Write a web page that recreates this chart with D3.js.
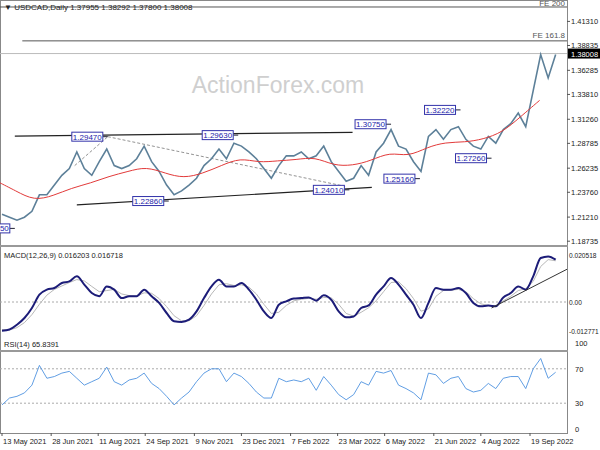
<!DOCTYPE html>
<html><head><meta charset="utf-8">
<script src="https://cdn.jsdelivr.net/npm/d3@7"></script>
<style>body{margin:0;background:#fff}text{font-family:"Liberation Sans",Arial,sans-serif}</style>
</head><body><svg width="600" height="450"></svg>
<script>
const svg = d3.select('svg');

// weekly closes starting 13 May 2021
const closes = [1.215,1.212,1.209,1.212,1.218,1.235,1.235,1.245,1.255,1.262,1.279,1.262,1.255,1.269,1.282,1.265,1.262,1.265,1.272,1.285,
  1.269,1.259,1.245,1.235,1.239,1.245,1.252,1.265,1.272,1.282,1.272,1.288,1.285,1.279,1.272,1.262,1.252,1.265,1.275,1.275,
  1.279,1.272,1.275,1.285,1.269,1.259,1.249,1.252,1.265,1.255,1.279,1.288,1.302,1.285,1.282,1.269,1.259,1.295,1.302,1.292,
  1.302,1.305,1.292,1.285,1.282,1.295,1.288,1.302,1.308,1.319,1.305,1.342,1.379,1.355,1.379];
// 50-day MA, one value every 2.5 weeks
const maValues = [1.249,1.239,1.229,1.234,1.242,1.247,1.254,1.259,1.264,1.257,1.252,1.257,1.265,1.273,1.268,
  1.270,1.271,1.274,1.265,1.265,1.270,1.279,1.274,1.284,1.289,1.289,1.292,1.299,1.315,1.332];
const macd = [-0.0125,-0.012,-0.0099,-0.007,-0.0026,0.0032,0.0054,0.0061,0.0083,0.009,0.0112,0.0076,0.0039,0.0025,0.0068,0.0054,0.0017,0.0025,0.0025,0.0054,
  0.0025,-0.0004,-0.0048,-0.0084,-0.0087,-0.0077,-0.0041,0.0017,0.0068,0.0097,0.0068,0.0068,0.0083,0.0054,0.001,-0.0041,-0.007,-0.0012,0.0003,0.0015,
  0.0017,0.002,0.0006,0.0029,0.001,-0.0041,-0.0067,-0.0063,-0.0026,-0.0015,0.0032,0.0068,0.0105,0.0076,0.0032,-0.0012,-0.007,-0.0004,0.0061,0.0054,
  0.0054,0.0061,0.0039,-0.0004,-0.0019,-0.0015,-0.0019,0.002,0.0039,0.0068,0.0054,0.0112,0.0192,0.0199,0.0185];
const signal = [-0.012,-0.0122,-0.0112,-0.009,-0.0055,-0.001,0.003,0.0055,0.007,0.0085,0.0098,0.0092,0.0068,0.0045,0.005,0.0055,0.0035,0.0028,0.0026,0.004,
  0.0038,0.0015,-0.002,-0.006,-0.0082,-0.0082,-0.006,-0.0015,0.0035,0.0075,0.008,0.0072,0.0075,0.0065,0.0035,-0.001,-0.005,-0.0045,-0.0015,0.0005,
  0.0012,0.0016,0.0012,0.002,0.0018,-0.001,-0.005,-0.0062,-0.0045,-0.0025,0.0005,0.0045,0.0085,0.0088,0.0058,0.0015,-0.004,-0.003,0.0025,0.005,
  0.0052,0.0055,0.0045,0.0015,-0.0008,-0.0015,-0.0016,0.0005,0.0025,0.005,0.0058,0.009,0.0155,0.0185,0.018];
const rsi = [28,36,38,42,51,74,59,61,65,67,59,51,55,59,72,55,51,57,59,65,53,47,38,28,36,43,55,65,70,70,
  55,65,61,53,43,36,36,59,55,57,55,59,45,61,51,40,34,40,55,51,67,65,68,51,47,42,34,65,63,53,
  59,61,47,43,45,53,47,59,61,61,47,70,82,59,66];
const pivots = [
  {label:'1.20050', date:'2021-05-25', price:1.2005},
  {label:'1.29470', date:'2021-08-20', price:1.2947},
  {label:'1.22860', date:'2021-10-16', price:1.2286},
  {label:'1.29630', date:'2021-12-20', price:1.2963},
  {label:'1.24010', date:'2022-04-03', price:1.2401},
  {label:'1.30750', date:'2022-05-12', price:1.3075},
  {label:'1.25160', date:'2022-06-08', price:1.2516},
  {label:'1.32220', date:'2022-07-16', price:1.3222},
  {label:'1.27260', date:'2022-08-14', price:1.2726}];
const priceTicks = [1.41310,1.38835,1.36285,1.33810,1.31260,1.28785,1.26235,1.23760,1.21210,1.18735];
const dateTicks = ['2021-05-13','2021-06-28','2021-08-11','2021-09-24','2021-11-09','2021-12-23','2022-02-07','2022-03-23','2022-05-06','2022-06-21','2022-08-04','2022-09-19'];
const lastPrice = 1.38008;

const parse = d3.timeParse('%Y-%m-%d');
const start = parse('2021-05-13');
const wk = i => d3.timeDay.offset(start, i * 7);
const x = d3.scaleTime().domain([start, parse('2022-09-19')]).range([2, 530]);
const y = d3.scaleLinear().domain([1.18735, 1.4131]).range([241.2, 21.4]);
const ym = d3.scaleLinear().domain([0, 0.020518]).range([302, 255]);
const yr = d3.scaleLinear().domain([0, 100]).range([429, 343]);
const fmtTick = d3.timeFormat('%-d %b %Y');

// frames
svg.append('rect').attr('x', 0.5).attr('y', 0.5).attr('width', 567).attr('height', 433).attr('fill', 'none').attr('stroke', '#888');
[[245, 247], [350, 352]].forEach(([a, b]) => {
  svg.append('rect').attr('x', 0).attr('y', a).attr('width', 568).attr('height', b - a).attr('fill', '#999');
});

svg.append('text').attr('x', 278).attr('y', 93).attr('text-anchor', 'middle').attr('font-size', 23)
  .attr('fill', '#cfcfcf').text('ActionForex.com');

// horizontal levels
svg.append('line').attr('x1', 0).attr('x2', 567).attr('y1', y(1.4279)).attr('y2', y(1.4279)).attr('stroke', '#555');
svg.append('text').attr('x', 565).attr('y', y(1.4279) - 1).attr('text-anchor', 'end').attr('font-size', 8).attr('fill', '#555').text('FE 200');
svg.append('line').attr('x1', x(d3.timeDay.offset(start, 19))).attr('x2', 567).attr('y1', y(1.3931)).attr('y2', y(1.3931)).attr('stroke', '#555');
svg.append('text').attr('x', 565).attr('y', y(1.3931) - 3).attr('text-anchor', 'end').attr('font-size', 8).attr('fill', '#555').text('FE 161.8');
svg.append('line').attr('x1', 0).attr('x2', 567).attr('y1', y(lastPrice)).attr('y2', y(lastPrice)).attr('stroke', '#bbb');

// trend lines
const seg = (d1, p1, d2, p2, dash) => svg.append('line')
  .attr('x1', x(d3.timeDay.offset(start, d1))).attr('y1', y(p1))
  .attr('x2', x(d3.timeDay.offset(start, d2))).attr('y2', y(p2))
  .attr('stroke', dash ? '#777' : '#222').attr('stroke-width', dash ? 0.8 : 1.2)
  .attr('stroke-dasharray', dash ? '3,2' : null);
seg(12, 1.2952, 328, 1.2992);
seg(70, 1.2247, 346, 1.2426);
seg(68, 1.265, 99, 1.2947, true);
seg(99, 1.2947, 321, 1.2437, true);

// price and MA
svg.append('path').attr('d', d3.line().x((d, i) => x(wk(i))).y(d => y(d))(closes))
  .attr('fill', 'none').attr('stroke', '#5d8099').attr('stroke-width', 1.6);
svg.append('path').attr('d', d3.line().curve(d3.curveBasis).x((d, i) => x(wk(i * 2.5 - 0.6))).y(d => y(d))(maValues))
  .attr('fill', 'none').attr('stroke', '#e23a3a').attr('stroke-width', 1);

// pivot labels
pivots.forEach(p => {
  const px = x(parse(p.date)), py = y(p.price);
  svg.append('line').attr('x1', px - 5).attr('x2', px).attr('y1', py).attr('y2', py).attr('stroke', '#223');
  svg.append('rect').attr('x', px - 36).attr('y', py - 4.5).attr('width', 31).attr('height', 9)
    .attr('fill', '#fff').attr('stroke', '#3333aa');
  svg.append('text').attr('x', px - 20.5).attr('y', py + 3).attr('text-anchor', 'middle').attr('font-size', 8)
    .attr('fill', '#2222aa').text(p.label);
});

// price axis
priceTicks.forEach(t => {
  svg.append('line').attr('x1', 567).attr('x2', 570).attr('y1', y(t)).attr('y2', y(t)).attr('stroke', '#555');
  svg.append('text').attr('x', 571).attr('y', y(t) + 3).attr('font-size', 7.5).attr('fill', '#222').text(t.toFixed(5));
});
svg.append('rect').attr('x', 568).attr('y', y(lastPrice) - 5).attr('width', 32).attr('height', 10).attr('fill', '#000');
svg.append('text').attr('x', 571).attr('y', y(lastPrice) + 3).attr('font-size', 7.5).attr('fill', '#fff').text(lastPrice.toFixed(5));

svg.append('text').attr('x', 4).attr('y', 10).attr('font-size', 8).attr('fill', '#222')
  .text('\u25BC USDCAD,Daily  1.37955 1.38292 1.37800 1.38008');

// MACD panel
svg.append('line').attr('x1', 0).attr('x2', 567).attr('y1', ym(0)).attr('y2', ym(0)).attr('stroke', '#aaa').attr('stroke-dasharray', '2,2');
svg.append('path').attr('d', d3.line().x((d, i) => x(wk(i))).y(d => ym(d))(signal))
  .attr('fill', 'none').attr('stroke', '#b8b8b8').attr('stroke-width', 1);
svg.append('path').attr('d', d3.line().curve(d3.curveMonotoneX).x((d, i) => x(wk(i))).y(d => ym(d))(macd))
  .attr('fill', 'none').attr('stroke', '#1c1c78').attr('stroke-width', 2);
svg.append('line').attr('x1', x(parse('2022-08-14'))).attr('y1', ym(-0.0026))
  .attr('x2', 567).attr('y2', ym(0.0143)).attr('stroke', '#333');
svg.append('text').attr('x', 4).attr('y', 258).attr('font-size', 7.5).attr('fill', '#222').text('MACD(12,26,9) 0.016203 0.016718');
[[0.020518, '0.020518'], [0, '0.00'], [-0.012771, '-0.012771']].forEach(([v, s]) => {
  svg.append('text').attr('x', 569).attr('y', ym(v) + 3).attr('font-size', 6.6).attr('fill', '#222').text(s);
});

// RSI panel
[70, 30].forEach(v => svg.append('line').attr('x1', 0).attr('x2', 567).attr('y1', yr(v)).attr('y2', yr(v))
  .attr('stroke', '#aaa').attr('stroke-dasharray', '2,2'));
svg.append('path').attr('d', d3.line().x((d, i) => x(wk(i))).y(d => yr(d))(rsi))
  .attr('fill', 'none').attr('stroke', '#4f93e0').attr('stroke-width', 0.9);
svg.append('text').attr('x', 4).attr('y', 347).attr('font-size', 7.5).attr('fill', '#222').text('RSI(14) 65.8391');
[100, 70, 30, 0].forEach(v => svg.append('text').attr('x', 575).attr('y', yr(v) + 3)
  .attr('font-size', 7.5).attr('fill', '#222').text(v));

// date axis
dateTicks.forEach(d => {
  const xx = x(parse(d));
  svg.append('line').attr('x1', xx).attr('x2', xx).attr('y1', 433).attr('y2', 436).attr('stroke', '#555');
  svg.append('text').attr('x', xx + 1).attr('y', 444).attr('font-size', 7.5).attr('fill', '#222').text(fmtTick(parse(d)));
});
</script></body></html>
